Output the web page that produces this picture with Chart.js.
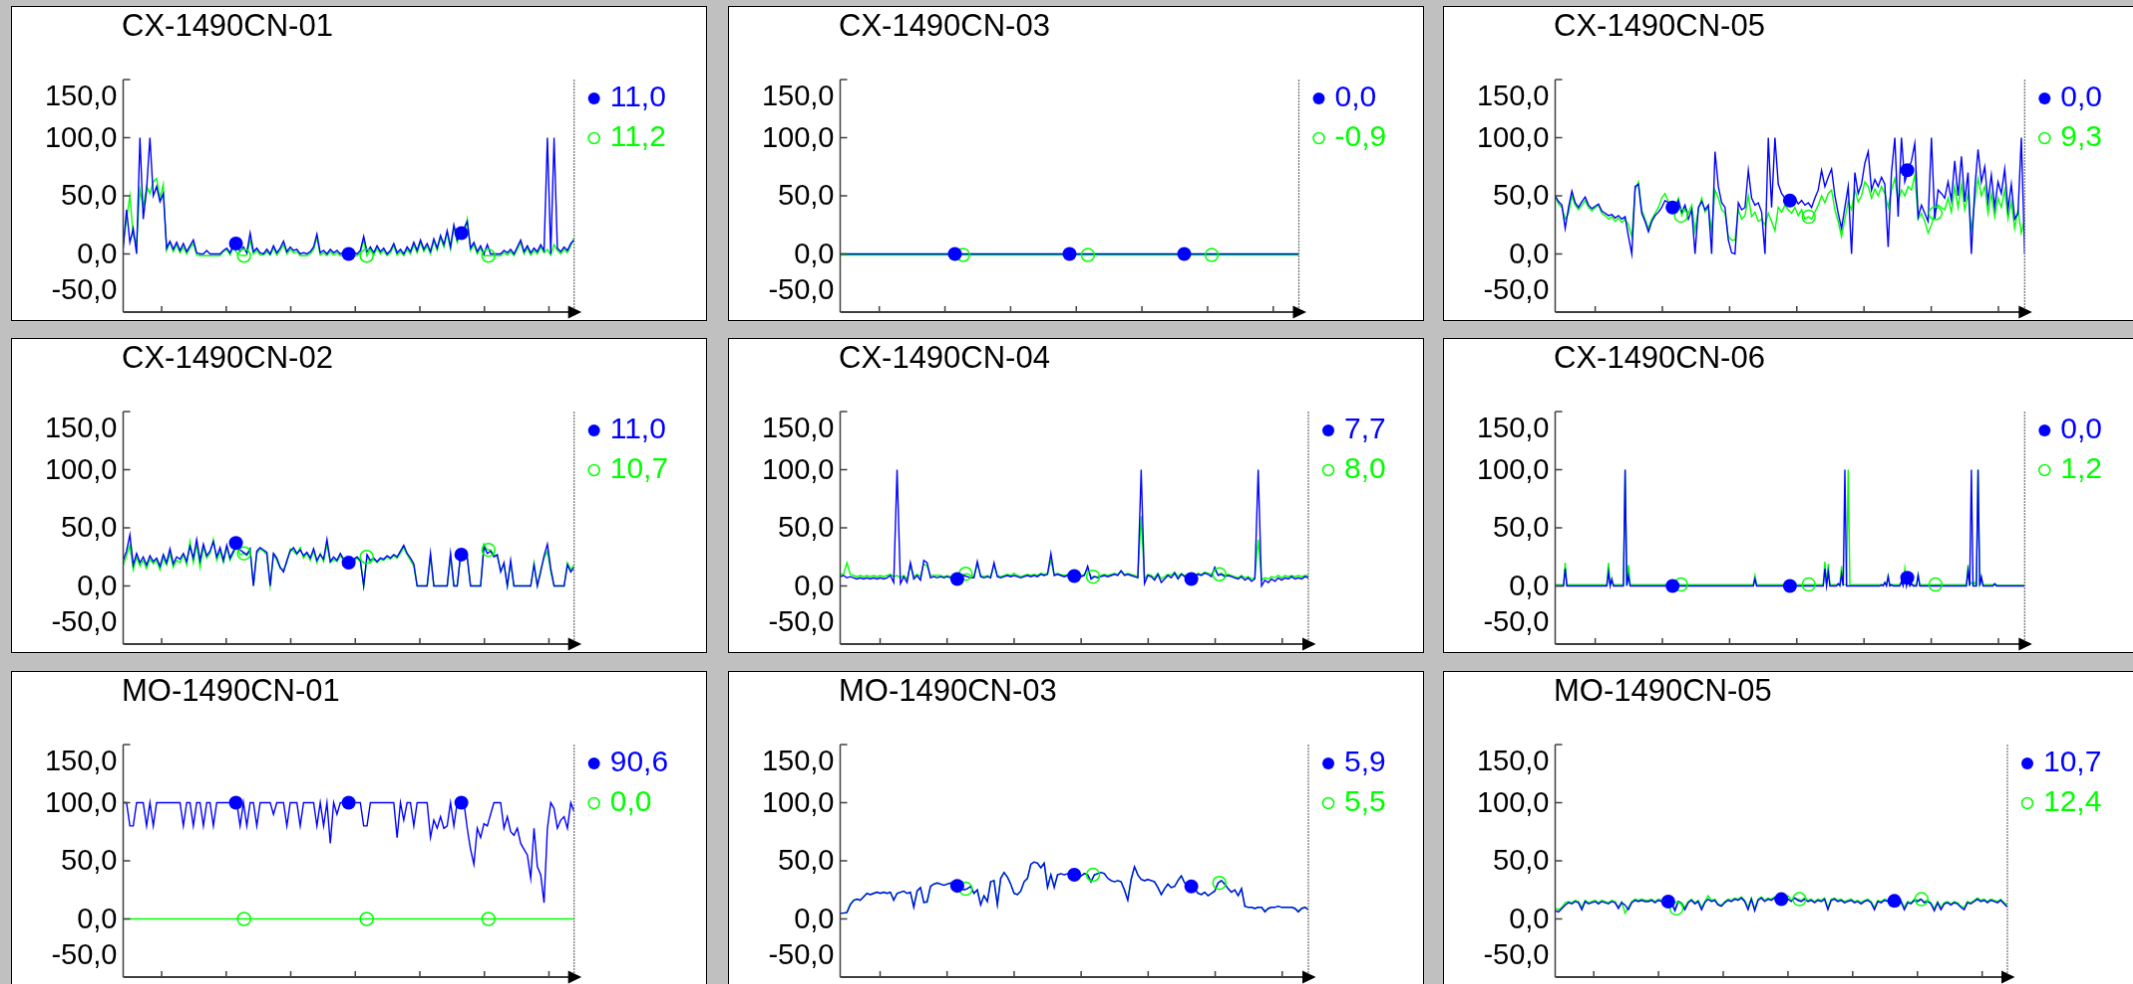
<!DOCTYPE html>
<html>
<head>
<meta charset="utf-8">
<script src="https://cdn.jsdelivr.net/npm/chart.js@4.4.1/dist/chart.umd.min.js"></script>
<style>
body{margin:0;background:#c0c0c0;width:2133px;height:984px;overflow:hidden;position:relative}
canvas{position:absolute;background:#fff;border:1px solid #000}
</style>
</head>
<body>
<script>
// axis values
const yTicks=[-50,0,50,100,150];
const xTicks=[0,1,2,3,4,5,6];
const xMin=-0.595, xMax=6.39;
const blueMarks=[0.25,0.5,0.75];
const greenMarks=[0.268,0.54,0.81];

const titles=["CX-1490CN-01","CX-1490CN-03","CX-1490CN-05","CX-1490CN-02","CX-1490CN-04","CX-1490CN-06","MO-1490CN-01","MO-1490CN-03","MO-1490CN-05"];
const blueNow=["11,0","0,0","0,0","11,0","7,7","0,0","90,6","5,9","10,7"];
const greenNow=["11,2","-0,9","9,3","10,7","8,0","1,2","0,0","5,5","12,4"];

const cx01Blue=[5,38,10,22,0,100,30,55,100,50,
58,45,52,5,11,4,10,3,9,2,
7,12,1,0,0,3,0,0,0,0,
3,5,1,8,9,2,6,1,18,2,
5,1,0,4,0,7,1,5,11,2,
6,3,4,0,1,0,2,6,17,1,
3,0,4,1,3,0,1,0,0,1,
0,3,15,2,6,1,7,2,5,0,
3,9,1,4,0,6,2,10,3,12,
4,9,2,13,5,16,8,20,6,25,
12,18,22,28,5,10,2,7,0,8,
0,0,0,0,3,1,4,0,6,12,
2,7,1,5,2,8,3,100,0,100,
5,2,6,3,9,12];
const cx01Green=[8,30,50,15,10,55,40,58,52,62,
65,48,60,3,10,2,8,1,6,0,
5,9,-1,-1.5,-1.5,-1.5,-1.5,-1.5,-1.5,-1.5,
2,4,-1,6,1,-1,-1.5,-1,12,0,
3,-1,-1,2,-1,5,-1,3,8,0,
4,1,2,-1.5,-1.5,-1.5,0,4,14,-1,
1,-1.5,2,-1,1,-1.5,-1.5,-1.5,-1.5,-1.5,
-1.5,1,12,-1.5,4,-1,5,0,3,-1.5,
1,7,-1,2,-1.5,4,0,8,1,10,
2,7,0,11,3,14,6,18,4,23,
10,20,16,30,3,8,0,5,-1.5,-1.5,
-1.5,-1.5,-1.5,-1.5,1,-1,2,-1.5,4,10,
0,5,-1,3,0,6,1,4,-1,8,
3,0,4,1,7,14];

const cx02Blue=[22,30,44,18,28,20,25,18,26,21,
24,17,27,20,32,19,25,23,28,21,
34,24,40,22,36,26,30,38,25,33,
22,35,24,30,37,31,29,27,32,0,
30,33,31,29,0,28,24,16,12,22,
30,33,28,31,26,29,24,32,22,27,
23,40,21,25,22,28,23,21,20,23,
25,22,0,27,22,24,21,24,23,26,
24,27,25,30,35,28,24,19,0,0,
0,0,28,0,0,0,0,0,28,0,
0,27,28,25,0,0,0,0,34,28,
30,25,27,12,20,0,22,0,0,0,
0,0,0,18,0,12,26,36,15,0,
0,0,0,18,12,16];
const cx02Green=[18,26,35,14,25,17,22,15,23,19,
22,14,24,18,28,16,22,20,27,18,
38,20,36,16,33,24,28,40,22,30,
20,33,22,28,34,27,28,26,30,0,
28,32,30,27,0,27,22,15,14,20,
32,30,27,33,24,28,22,30,20,28,
21,36,20,23,21,26,22,20,22,21,
24,21,0,25,20,23,20,23,22,25,
23,26,24,28,33,27,22,17,0,0,
0,0,26,0,0,0,0,0,26,0,
0,26,27,24,0,0,0,0,36,31,
31,27,25,14,18,0,20,0,0,0,
0,0,0,20,0,14,24,30,12,0,
0,0,0,20,14,18];

const cx03Blue=[0,0,0,0,0,0,0,0,0,0,0];
const cx03Green=[-0.9,-0.9,-0.9,-0.9,-0.9,-0.9,-0.9,-0.9,-0.9,-0.9,-0.9];

const cx04Blue=[8,9,7,8,7,6,7,6,7,6,
7,6,7,6,7,9,3,100,2,8,
3,20,6,9,5,22,20,7,8,7,
8,7,8,7,8,6,7,9,8,7,
7,21,8,7,8,7,20,8,7,8,
9,8,9,8,7,8,9,8,9,8,
10,9,10,28,9,10,9,8,9,10,
8.5,9,8,9,17,6,8,7,8,9,
8,9,10,9,13,9,10,9,8,7,
100,2,9,8,5,10,3,6,9,7,
11,6,10,8,7,6,8,10,9,11,
10,8,16,9,10,8,9,8,7,6,
8,5,7,4,6,100,0,5,3,6,
4,7,5,7,6,8,6,7,6,8,7];
const cx04Green=[10,10,20,10,9,8,9,8,9,8,
9,8,9,8,9,10,8,9,7,9,
6,18,8,10,8,19,17,9,9,9,
9,8,9,8,9,8,9,10,10.5,9,
8,19,9,8,9,8,18,9,8,9,
10,9,11,9,8,9,10,9,10,9,
11,10,11,22,10,11,10,9,10,11,
9,10,9,10,14,8,8,8,9,10,
9,10,11,10,13,10,11,10,9,8,
60,6,10,9,7,11,6,8,10,9,
12,8,11,9,9,8,9,11,10,12,
11,10,14,10,11,9,10,9,8,7,
9,7,8,6,7,40,5,7,6,8,
7,9,7,9,8,9,8,9,8,9,9];

const cx05Blue=[50,45,42,22,40,54,44,40,45,49,
42,39,41,43,37,35,33,34,31,33,
30,32,15,0,58,60,35,28,19,28,
33,36,40,46,44,40,38,46,36,42,
30,38,0,40,45,38,42,0,88,58,
44,40,12,1,0,44,38,40,72,48,
42,44,36,0,100,40,100,60,52,48,
46,46,48,43,46,42,44,40,48,55,
72,58,66,73,50,35,22,40,58,0,
70,52,60,78,88,55,64,58,66,60,
6,70,100,32,100,62,72,80,95,32,
42,35,28,100,30,55,52,48,62,46,
80,50,84,45,70,0,55,90,62,75,
45,68,40,62,52,73,38,60,30,35,100,0];
const cx05Green=[50,43,40,30,35,50,42,38,42,46,
40,37,40,42,35,33,30,32,28,31,
27,30,25,15,55,62,38,30,22,30,
35,40,48,52,45,42,40,48,33,40,
35,42,20,38,48,36,40,20,55,48,
38,35,15,12,12,38,30,33,50,32,
36,28,30,25,35,28,20,40,36,42,
38,35,40,33,38,30,32,30,36,42,
50,44,52,55,38,28,15,30,45,38,
55,45,50,62,58,48,56,50,58,52,
40,55,65,45,55,50,58,55,68,30,
35,28,18,25,35,42,40,38,48,36,
58,40,60,38,52,20,45,65,50,58,
35,52,32,48,40,55,30,45,22,38,18,30];

const cx06Blue=[0,0,0,0,0,0,15,0,0,0,
0,0,0,0,0,0,0,0,0,0,
0,0,0,0,0,0,0,0,0,0,
0,0,12,0,6,0,0,0,0,0,
0,0,100,0,9,0,0,0,0,0,
0,0,0,0,0,0,0,0,0,0,
0,0,0,0,0,0,0,0,0,0,
0,0,0,0,0,0,0,0,0,0,
0,0,0,0,0,0,0,0,0,0,
0,0,0,0,0,0,0,0,0,0,
0,0,0,0,0,0,0,0,0,0,
0,0,0,0,0,0,0,0,0,0,
6,0,0,0,0,0,0,0,0,0,
0,0,0,0,0,0,0,0,0,0,
0,0,0,0,0,0,0,0,0,0,
0,0,0,0,0,0,0,0,0,0,
0,0,15,0,12,0,0,0,0,0,
2,0,10,0,100,0,0,0,0,0,
0,0,0,0,0,0,0,0,0,0,
0,0,0,0,0,0,1,0,3,0,
8,0,1,0,0,0,0,0,4,0,
9,0,7,0,2,0,0,0,9,0,
0,0,0,0,0,0,0,0,0,0,
0,0,0,0,0,0,0,0,0,0,
0,0,0,0,0,0,0,0,13,0,
100,0,0,0,100,0,8,0,0,0,
0,0,0,0,2,0,0,0,0,0,
0,0,0,0,0,0,0,0,0,0,
0,0,0];
const cx06Green=[1.2,1.2,1.2,1.2,1.2,1.2,20,1.2,1.2,1.2,
1.2,1.2,1.2,1.2,1.2,1.2,1.2,1.2,1.2,1.2,
1.2,1.2,1.2,1.2,1.2,1.2,1.2,1.2,1.2,1.2,
1.2,1.2,20,1.2,3,1.2,1.2,1.2,1.2,1.2,
1.2,1.2,100,1.2,18,1.2,1.2,1.2,1.2,1.2,
1.2,1.2,1.2,1.2,1.2,1.2,1.2,1.2,1.2,1.2,
1.2,1.2,1.2,1.2,1.2,1.2,1.2,1.2,1.2,1.2,
1.2,1.2,1.2,1.2,1.2,1.2,1.2,1.2,1.2,1.2,
1.2,1.2,1.2,1.2,1.2,1.2,1.2,1.2,1.2,1.2,
1.2,1.2,1.2,1.2,1.2,1.2,1.2,1.2,1.2,1.2,
1.2,1.2,1.2,1.2,1.2,1.2,1.2,1.2,1.2,1.2,
1.2,1.2,1.2,1.2,1.2,1.2,1.2,1.2,1.2,1.2,
9,1.2,1.2,1.2,1.2,1.2,1.2,1.2,1.2,1.2,
1.2,1.2,1.2,1.2,1.2,1.2,1.2,1.2,1.2,1.2,
1.2,1.2,1.2,1.2,1.2,1.2,1.2,1.2,1.2,1.2,
1.2,1.2,1.2,1.2,1.2,1.2,1.2,1.2,1.2,1.2,
1.2,1.2,21,1.2,19,1.2,1.2,1.2,1.2,1.2,
1.2,1.2,17,1.2,1.2,1.2,100,1.2,1.2,1.2,
1.2,1.2,1.2,1.2,1.2,1.2,1.2,1.2,1.2,1.2,
1.2,1.2,1.2,1.2,1.2,1.2,1.2,1.2,2,1.2,
9,1.2,1.2,1.2,1.2,1.2,1.2,1.2,2,1.2,
15,1.2,8,1.2,1.2,1.2,1.2,1.2,10,1.2,
1.2,1.2,1.2,1.2,1.2,1.2,1.2,1.2,1.2,1.2,
1.2,1.2,1.2,1.2,1.2,1.2,1.2,1.2,1.2,1.2,
1.2,1.2,1.2,1.2,1.2,1.2,1.2,1.2,18,1.2,
3,1.2,3,1.2,100,1.2,6,1.2,1.2,1.2,
1.2,1.2,1.2,1.2,1.2,1.2,0.5,0.5,0.5,0.5,
0.5,0.5,0.5,0.5,0.5,0.5,0.5,0.5,0.5,0.5,
0.5,0.5,0.5];

const mo01Blue=[100,100,80,80,100,100,100,80,100,80,
100,100,100,100,100,100,100,100,80,100,
100,80,100,100,80,100,100,80,100,100,
100,100,100,100,100,80,100,80,100,100,
80,100,100,100,100,90,100,100,100,80,
100,100,100,80,100,100,100,100,80,100,
80,100,65,100,90,100,100,100,100,100,
100,100,80,80,100,100,100,100,100,100,
100,100,70,100,85,100,100,80,100,100,
100,100,70,85,78,88,78,80,100,80,
100,100,100,78,60,47,78,70,82,80,
90,100,100,100,78,88,75,72,78,65,
60,55,35,78,45,38,14,78,100,95,
78,85,88,78,100,92];
const mo01Green=[0,0,0,0,0,0,0,0,0,0,0];

const mo03Blue=[5,5,5.5,12,16,17,16,19,22,21,
22,23,22,23,22,23,16,22,23,24,
22,23,10,24,27,14,15,28,30,31,
30,29,30,31,30,28.5,27,25,26,28,
22,25,12,20,15,32,33,12,35,40,
36,30,22,21,24,32,35,47,49,48,
44,48,27,38,27,38,39,38,39,38,
38,38,37,39,38,32,38,39,40,39,
35,33,32,33,32,25,16,34,45,38,
34,33,34,33,32,27,21,26,30,27,
28,33,37,31,30,28,26,22,21,23,
20,22,24,31,33,30,26,23,25,20,
26,11,10,10,9,10,10,6,9,10,
10,11,10,10,10,10,9,6,9,10,8];
const mo03Green=[5,5,6,13,16,17,16,19,22,21,
22,23,22,23,22,23,17,22,23,24,
22,23,11,24,27,15,14,28,30,31,
30,29,30,31,30,29,27,25,26,28,
22,25,13,20,15,32,33,13,35,40,
36,30,22,21,24,32,35,47,49,48,
44,48,28,38,28,38,39,38,39,38,
38,38,37,39,38,32,38,39,40,39,
35,33,32,33,32,25,17,34,45,38,
34,33,34,33,32,27,21,26,30,27,
28,33,37,31,30,28,26,22,21,23,
20,22,24,31,33,30,26,23,25,20,
26,11,10,10,9,10,10,7,9,10,
10,11,10,10,10,10,9,7,9,10,8];

const mo05Blue=[7,6,9,12,14,13,15,14,8,15,
13,14,15,13,15,14,13,15,14,9,
14,12,8,14,16,15,16,15,15,16,
14,16,15,17,15,14,7,15,13,8,
14,16,13,15,8,14,17,15,16,12,
11,14,16,15,17,16,18,15,8,17,
7,16,18,15,17,16,18,16,17,16,
17,15,18,16,15,17,15,16,14,16,
15,17,8,16,17,15,16,14,15,16,
14,15,13,15,16,14,8,15,14,16,
15,14,15.5,14,15,8,14,13,16,15,
17,14,15,13,7,14,8,13,14,12,
14,13,10,8,14,13,15,17,15,16,
14,16,15,14,16,13,10];
const mo05Green=[9,8,10,14,15,14,16,15,10,16,
14,15,16,14,16,15,14,16,15,10,
15,5,10,15,17,16,17,16,16,17,
15,17,16,18,14,12,9,15,14,10,
15,17,14,16,10,15,20,16,17,13,
12,15,17,16,18,17,19,16,10,18,
9,17,19,16,18,17,19,17,18,17,
20,16,18,17,16,18,16,17,15,17,
16,18,10,17,18,16,17,15,16,17,
15,16,14,16,17,15,10,16,15,17,
16,15,16,15,16,10,15,14,17,16,
17,15,16,14,9,15,10,14,15,13,
15,14,11,10,15,14,16,18,16,17,
15,17,16,15,17,14,12];

const blueSeries=[cx01Blue,cx03Blue,cx05Blue,cx02Blue,cx04Blue,cx06Blue,mo01Blue,mo03Blue,mo05Blue];
const greenSeries=[cx01Green,cx03Green,cx05Green,cx02Green,cx04Green,cx06Green,mo01Green,mo03Green,mo05Green];

// layout (px)
const colLeft=[11,728,1443], rowTop=[6,338,671];
const panelW=698, panelH=317;
const plotRight=[564.7,572.5,583.3,564.7,582,583.3,564.7,582,566];

const FONT='"Liberation Sans", Arial, sans-serif';
const BLUE='#0000ff', GREEN='#00ff00';

function toPoints(vals){
    const n=vals.length;
    return vals.map((v,i)=>({x:xMin+(xMax-xMin)*i/(n-1), y:v}));
}
function markPoints(vals,fracs){
    const n=vals.length;
    return fracs.map(f=>({x:xMin+(xMax-xMin)*f, y:vals[Math.round(f*(n-1))]}));
}

const decor={
    id:'decor',
    afterDraw(chart,args,o){
        const ctx=chart.ctx, a=chart.chartArea, x=chart.scales.x, y=chart.scales.y;
        ctx.save();
        ctx.textBaseline='middle';
        // title
        ctx.font='31px '+FONT;
        ctx.fillStyle='#000';
        ctx.textAlign='left';
        ctx.fillText(o.title,110,20);
        // right guide line
        ctx.strokeStyle='#707070';
        ctx.lineWidth=1.2;
        ctx.setLineDash([2,1]);
        ctx.beginPath();ctx.moveTo(a.right,a.top);ctx.lineTo(a.right,a.bottom);ctx.stroke();
        ctx.setLineDash([]);
        // y axis
        ctx.font='29px '+FONT;
        ctx.strokeStyle='#404040';
        ctx.lineWidth=1.5;
        ctx.beginPath();ctx.moveTo(a.left,a.top);ctx.lineTo(a.left,a.bottom);ctx.stroke();
        yTicks.forEach(v=>{
            const py=y.getPixelForValue(v);
            if(v>yTicks[0]){
                ctx.beginPath();ctx.moveTo(a.left,py);ctx.lineTo(a.left+7,py);ctx.stroke();
            }
            const ly=Math.min(Math.max(py+1,a.top+18),a.bottom-21);
            ctx.fillStyle='#000';
            ctx.textAlign='right';
            ctx.fillText(v.toFixed(1).replace('.',','),a.left-6,ly);
        });
        // x axis with arrow
        ctx.lineWidth=2;
        ctx.beginPath();ctx.moveTo(a.left,a.bottom);ctx.lineTo(a.right+4,a.bottom);ctx.stroke();
        ctx.lineWidth=1.5;
        xTicks.forEach(v=>{
            const px=x.getPixelForValue(v);
            ctx.beginPath();ctx.moveTo(px,a.bottom);ctx.lineTo(px,a.bottom-6);ctx.stroke();
        });
        ctx.fillStyle='#000';
        ctx.beginPath();
        ctx.moveTo(a.right-6,a.bottom-6.5);ctx.lineTo(a.right+7.5,a.bottom);ctx.lineTo(a.right-6,a.bottom+6.5);
        ctx.closePath();ctx.fill();
        // current values
        ctx.font='30px '+FONT;
        ctx.textAlign='left';
        ctx.fillStyle=BLUE;
        ctx.beginPath();ctx.arc(a.right+20,a.top+19,6,0,Math.PI*2);ctx.fill();
        ctx.fillText(o.blueNow,a.right+36,a.top+19);
        ctx.strokeStyle=GREEN;ctx.lineWidth=1.5;
        ctx.beginPath();ctx.arc(a.right+20,a.top+59,5.5,0,Math.PI*2);ctx.stroke();
        ctx.fillStyle=GREEN;
        ctx.fillText(o.greenNow,a.right+36,a.top+59);
        ctx.restore();
    }
};

titles.forEach((title,k)=>{
    const c=document.createElement('canvas');
    const w=panelW-2, h=panelH-2;
    c.width=w; c.height=h;
    c.style.left=colLeft[k%3]+'px';
    c.style.top=rowTop[Math.floor(k/3)]+'px';
    document.body.appendChild(c);
    const blue=blueSeries[k], green=greenSeries[k];
    new Chart(c,{
        type:'line',
        data:{
            datasets:[
                {data:markPoints(blue,blueMarks),showLine:false,pointRadius:7,pointBackgroundColor:BLUE,pointBorderColor:BLUE,pointBorderWidth:0,order:0},
                {data:markPoints(green,greenMarks),showLine:false,pointRadius:6.5,pointBackgroundColor:'rgba(0,0,0,0)',pointBorderColor:GREEN,pointBorderWidth:1.5,order:1},
                {data:toPoints(blue),borderColor:BLUE,borderWidth:1.4,pointRadius:0,order:2},
                {data:toPoints(green),borderColor:GREEN,borderWidth:1.4,pointRadius:0,order:3}
            ]
        },
        options:{
            responsive:false,
            animation:false,
            events:[],
            layout:{padding:{left:111.5,top:73,right:w-(plotRight[k]-1),bottom:h-308.3}},
            scales:{
                x:{type:'linear',min:xMin,max:xMax,display:false},
                y:{type:'linear',min:-50,max:150,display:false}
            },
            plugins:{
                legend:{display:false},
                tooltip:{enabled:false},
                decor:{title:title,blueNow:blueNow[k],greenNow:greenNow[k]}
            }
        },
        plugins:[decor]
    });
});
</script>
</body>
</html>
